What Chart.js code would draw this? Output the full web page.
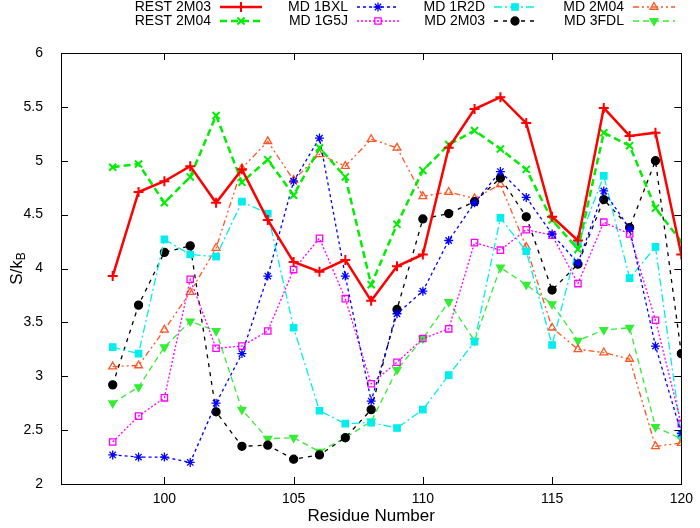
<!DOCTYPE html>
<html>
<head>
<meta charset="utf-8">
<script src="https://cdn.jsdelivr.net/npm/chart.js@4"></script>
<style>
  html, body { margin: 0; padding: 0; background: #fff; }
  #wrap { width: 700px; height: 528px; }
</style>
</head>
<body>
<div id="wrap"><canvas id="chart" width="700" height="528"></canvas></div>
<script>
// residue numbers on the x axis
var residues = [98, 99, 100, 101, 102, 103, 104, 105, 106, 107, 108, 109, 110, 111, 112, 113, 114, 115, 116, 117, 118, 119, 120];
var xTicks = [100, 105, 110, 115, 120];

// S/kB per residue
var rest2M03 = [3.93, 4.71, 4.81, 4.95, 4.61, 4.92, 4.45, 4.06, 3.97, 4.08, 3.70, 4.02, 4.13, 5.12, 5.48, 5.59, 5.35, 4.48, 4.26, 5.49, 5.23, 5.26, 4.13];
var rest2M04 = [4.94, 4.97, 4.61, 4.85, 5.42, 4.80, 5.01, 4.68, 5.12, 4.85, 3.85, 4.41, 4.91, 5.15, 5.28, 5.11, 4.92, 4.45, 4.18, 5.26, 5.14, 4.56, 4.25];
var md1BXL = [2.27, 2.25, 2.25, 2.20, 2.75, 3.21, 3.93, 4.81, 5.21, 3.93, 2.77, 3.58, 3.79, 4.26, 4.61, 4.90, 4.66, 4.32, 4.05, 4.72, 4.37, 3.28, 2.47];
var md1G5J = [2.39, 2.63, 2.80, 3.90, 3.26, 3.28, 3.42, 3.99, 4.28, 3.72, 2.93, 3.13, 3.35, 3.44, 4.24, 4.17, 4.36, 4.31, 3.86, 4.43, 4.32, 3.52, 2.56];
var md1R2D = [3.27, 3.21, 4.27, 4.13, 4.11, 4.62, 4.51, 3.45, 2.68, 2.56, 2.57, 2.52, 2.69, 3.01, 3.32, 4.47, 4.16, 3.29, 4.23, 4.86, 3.91, 4.20, 2.46];
var md2M03 = [2.92, 3.66, 4.15, 4.21, 2.67, 2.35, 2.36, 2.23, 2.27, 2.43, 2.69, 3.62, 4.46, 4.51, 4.62, 4.84, 4.48, 3.80, 4.04, 4.64, 4.38, 5.00, 3.21];
var md2M04 = [3.09, 3.10, 3.43, 3.78, 4.19, 4.93, 5.18, 4.82, 5.06, 4.95, 5.20, 5.12, 4.67, 4.71, 4.65, 4.78, 4.20, 3.45, 3.25, 3.22, 3.16, 2.35, 2.38];
var md3FDL = [2.75, 2.90, 3.27, 3.51, 3.42, 2.69, 2.42, 2.43, 2.30, 2.43, 2.58, 3.06, 3.35, 3.69, 3.33, 4.01, 3.85, 3.67, 3.33, 3.43, 3.45, 2.53, 2.42];

var FONT = '"Liberation Sans", Arial, sans-serif';

function pts(values) {
    return values.map(function (v, i) { return { x: residues[i], y: v }; });
}

function series(label, values, color, width, dash, style, radius, filled, rotation) {
    return {
        label: label,
        data: pts(values),
        borderColor: color,
        backgroundColor: filled ? color : 'rgba(0,0,0,0)',
        borderWidth: width,
        borderDash: dash,
        pointStyle: style,
        pointRadius: radius,
        pointBorderWidth: style === 'cross' || style === 'crossRot' ? 2 : 1.3,
        pointBorderColor: color,
        pointBackgroundColor: filled ? color : 'rgba(0,0,0,0)',
        pointRotation: rotation || 0,
        tension: 0,
        fill: false
    };
}

var datasets = [
    series('REST 2M03', rest2M03, '#ff0000', 2.5, [], 'cross', 5, false),
    series('REST 2M04', rest2M04, '#00ee00', 2.5, [7, 4], 'crossRot', 5, false),
    series('MD 1BXL', md1BXL, '#0000ff', 1.3, [3, 3], 'star', 4.5, false),
    series('MD 1G5J', md1G5J, '#ff00ff', 1.3, [2, 2], 'rect', 4.5, false),
    series('MD 1R2D', md1R2D, '#00eeee', 1.3, [8, 3, 2, 3], 'rect', 4.5, true),
    series('MD 2M03', md2M03, '#000000', 1.3, [4, 5], 'circle', 4, true),
    series('MD 2M04', md2M04, '#ff5522', 1.3, [6, 3, 2, 3, 2, 3], 'triangle', 4.5, false),
    series('MD 3FDL', md3FDL, '#33ee33', 1.3, [6, 4], 'triangle', 4.5, true, 180)
];

// frame, inward ticks, y title with subscript and the two-row key
var decorations = {
    id: 'decorations',
    afterDraw: function (chart) {
        var ctx = chart.ctx;
        var a = chart.chartArea;
        var xs = chart.scales.x, ys = chart.scales.y;
        ctx.save();
        ctx.strokeStyle = '#000';
        ctx.lineWidth = 1;
        ctx.setLineDash([]);
        ctx.strokeRect(Math.round(a.left) + 0.5, Math.round(a.top) + 0.5, Math.round(a.right - a.left), Math.round(a.bottom - a.top));
        ctx.beginPath();
        xs.ticks.forEach(function (t) {
            var px = Math.round(xs.getPixelForValue(t.value)) + 0.5;
            ctx.moveTo(px, a.bottom); ctx.lineTo(px, a.bottom - 7);
            ctx.moveTo(px, a.top); ctx.lineTo(px, a.top + 7);
        });
        ys.ticks.forEach(function (t) {
            var py = Math.round(ys.getPixelForValue(t.value)) + 0.5;
            ctx.moveTo(a.left, py); ctx.lineTo(a.left + 7, py);
            ctx.moveTo(a.right, py); ctx.lineTo(a.right - 7, py);
        });
        ctx.stroke();

        // y title: S/k with subscript B
        ctx.translate(17, (a.top + a.bottom) / 2);
        ctx.rotate(-Math.PI / 2);
        ctx.fillStyle = '#000';
        ctx.textBaseline = 'middle';
        ctx.font = '17px ' + FONT;
        var main = 'S/k';
        var w1 = ctx.measureText(main).width;
        ctx.font = '12px ' + FONT;
        var w2 = ctx.measureText('B').width;
        var start = -(w1 + w2) / 2;
        ctx.font = '17px ' + FONT;
        ctx.textAlign = 'left';
        ctx.fillText(main, start, 0);
        ctx.font = '12px ' + FONT;
        ctx.fillText('B', start + w1, 5);
        ctx.restore();

        // key
        var textRight = [211, 348, 485, 624];
        var rowY = [7, 21];
        ctx.save();
        ctx.font = '14px ' + FONT;
        ctx.textBaseline = 'middle';
        chart.data.datasets.forEach(function (ds, i) {
            var col = Math.floor(i / 2), row = i % 2;
            var tx = textRight[col], y = rowY[row];
            ctx.fillStyle = '#000';
            ctx.textAlign = 'right';
            ctx.fillText(ds.label, tx, y);
            var x0 = tx + 9, x1 = tx + 51;
            ctx.strokeStyle = ds.borderColor;
            ctx.lineWidth = ds.borderWidth;
            ctx.setLineDash(ds.borderDash);
            ctx.beginPath();
            ctx.moveTo(x0, y); ctx.lineTo(x1, y);
            ctx.stroke();
            ctx.setLineDash([]);
            ctx.fillStyle = ds.pointBackgroundColor;
            ctx.strokeStyle = ds.pointBorderColor;
            ctx.lineWidth = ds.pointBorderWidth;
            Chart.helpers.drawPoint(ctx, {
                pointStyle: ds.pointStyle,
                rotation: ds.pointRotation,
                radius: ds.pointRadius,
                borderWidth: ds.pointBorderWidth
            }, (x0 + x1) / 2, y);
        });
        ctx.restore();
    }
};

var ctx = document.getElementById('chart').getContext('2d');
var chart = new Chart(ctx, {
    type: 'line',
    data: { datasets: datasets },
    options: {
        responsive: false,
        animation: false,
        layout: { padding: { top: 53, right: 17, left: 0, bottom: 0 } },
        plugins: {
            legend: { display: false },
            tooltip: { enabled: false }
        },
        scales: {
            x: {
                type: 'linear',
                min: 96,
                max: 120,
                afterBuildTicks: function (scale) {
                    scale.ticks = xTicks.map(function (v) { return { value: v }; });
                },
                afterFit: function (scale) { scale.height = 44; },
                grid: { display: false, drawTicks: false },
                border: { display: false },
                ticks: {
                    color: '#000',
                    font: { family: FONT, size: 14 },
                    padding: 7,
                    maxRotation: 0
                },
                title: {
                    display: true,
                    text: 'Residue Number',
                    color: '#000',
                    font: { family: FONT, size: 17 },
                    padding: { top: 0, bottom: 1 }
                }
            },
            y: {
                min: 2,
                max: 6,
                afterFit: function (scale) { scale.width = 61; },
                grid: { display: false, drawTicks: false },
                border: { display: false },
                ticks: {
                    stepSize: 0.5,
                    color: '#000',
                    font: { family: FONT, size: 14 },
                    padding: 18,
                    callback: function (v) { return String(v); }
                }
            }
        }
    },
    plugins: [decorations]
});
</script>
</body>
</html>
